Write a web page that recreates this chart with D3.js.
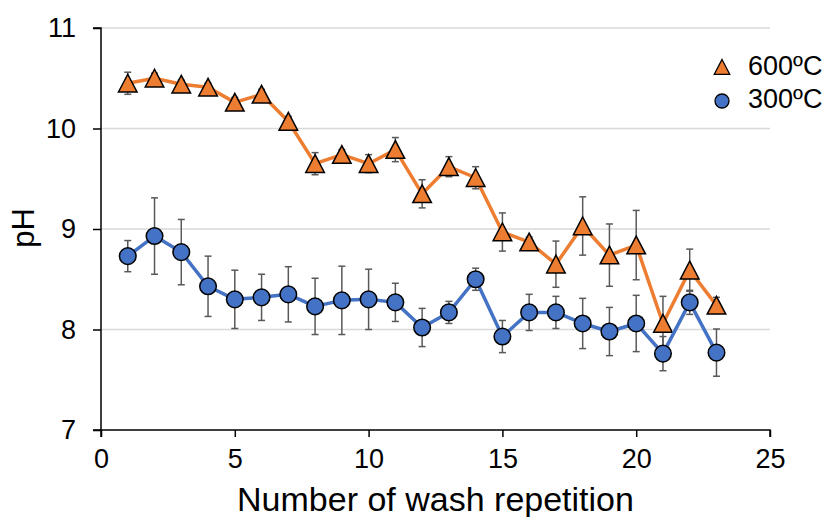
<!DOCTYPE html>
<html>
<head>
<meta charset="utf-8">
<script src="https://cdn.jsdelivr.net/npm/d3@7"></script>
<style>
  html, body { margin: 0; padding: 0; background: #fff; }
  svg { display: block; font-family: "Liberation Sans", Arial, sans-serif; }
</style>
</head>
<body>
<svg id="chart" width="828" height="517"></svg>
<script>
// Wash repetition number
const washes = [1,2,3,4,5,6,7,8,9,10,11,12,13,14,15,16,17,18,19,20,21,22,23];

// pH after each wash, biochar produced at 600 ºC
const ph600 = [10.45,10.50,10.44,10.41,10.26,10.34,10.07,9.65,9.74,9.65,9.79,9.35,9.62,9.51,8.97,8.87,8.65,9.03,8.74,8.84,8.06,8.59,8.24];
const err600 = [0.11,0.05,0.04,0.04,0.05,0.05,0.05,0.11,0.05,0.09,0.12,0.14,0.10,0.11,0.19,0.05,0.23,0.29,0.31,0.345,0.27,0.21,0.08];

// pH after each wash, biochar produced at 300 ºC
const ph300 = [8.73,8.93,8.77,8.43,8.30,8.32,8.35,8.23,8.29,8.30,8.27,8.02,8.17,8.50,7.93,8.17,8.17,8.06,7.98,8.06,7.76,8.27,7.77];
const err300 = [0.155,0.38,0.325,0.30,0.29,0.23,0.275,0.28,0.34,0.30,0.19,0.19,0.11,0.11,0.16,0.18,0.16,0.25,0.24,0.28,0.17,0.12,0.235];

const xTicks = [0,5,10,15,20,25];
const yTicks = [7,8,9,10,11];
const seriesNames = ["600ºC","300ºC"];
const seriesColors = ["#ED7D31","#4472C4"];

const svg = d3.select("#chart");
const x = d3.scaleLinear().domain([0,25]).range([101,770]);
const y = d3.scaleLinear().domain([7,11]).range([430,28]);

// horizontal gridlines
svg.append("g").selectAll("line")
  .data(yTicks.filter(t => t > 7))
  .join("line")
  .attr("x1", x(0)).attr("x2", x(25))
  .attr("y1", d => y(d)).attr("y2", d => y(d))
  .attr("stroke", "#d9d9d9").attr("stroke-width", 1.5);

// axes
const yAxis = svg.append("g")
  .attr("transform", `translate(${x(0)},0)`)
  .call(d3.axisLeft(y).tickValues(yTicks).tickSize(8).tickPadding(17).tickFormat(d3.format("d")));
const xAxis = svg.append("g")
  .attr("transform", `translate(0,${y(7)})`)
  .call(d3.axisBottom(x).tickValues(xTicks).tickSize(7).tickPadding(12).tickFormat(d3.format("d")));
[xAxis, yAxis].forEach(g => {
  g.select(".domain").attr("stroke", "#000").attr("stroke-width", 1.5);
  g.selectAll(".tick line").attr("stroke", "#000").attr("stroke-width", 1.5);
  g.selectAll(".tick text").attr("fill", "#000").attr("font-size", 27)
    .attr("font-family", "\"Liberation Sans\", Arial, sans-serif");
});
xAxis.select(".domain").attr("d", `M${x(0)},0V7M${x(0)},0H${x(25)}V7`);
yAxis.select(".domain").attr("d", `M-8,${y(11)}H0V${y(7)}H-8`);

// axis titles
svg.append("text")
  .attr("x", (x(0)+x(25))/2).attr("y", 511)
  .attr("text-anchor", "middle").attr("font-size", 34).attr("fill", "#000")
  .text("Number of wash repetition");
svg.append("text")
  .attr("transform", `translate(34,228) rotate(-90)`)
  .attr("text-anchor", "middle").attr("font-size", 31).attr("fill", "#000")
  .text("pH");

const triPath = s => `M0,${-s}L${s*1.03},${s*0.97}L${-s*1.03},${s*0.97}Z`;

function drawSeries(vals, errs, color, shape) {
  const pts = washes.map((w,i) => ({w, v: vals[i], e: errs[i]}));
  const g = svg.append("g");
  g.append("path")
    .datum(pts)
    .attr("fill", "none").attr("stroke", color).attr("stroke-width", 3.5)
    .attr("stroke-linejoin", "round")
    .attr("d", d3.line().x(d => x(d.w)).y(d => y(d.v)));
  const eb = g.append("g").attr("stroke", "#595959").attr("stroke-width", 1.5);
  pts.forEach(d => {
    const cx = x(d.w), y0 = y(d.v - d.e), y1 = y(d.v + d.e);
    eb.append("line").attr("x1", cx).attr("x2", cx).attr("y1", y0).attr("y2", y1);
    eb.append("line").attr("x1", cx-3.5).attr("x2", cx+3.5).attr("y1", y0).attr("y2", y0);
    eb.append("line").attr("x1", cx-3.5).attr("x2", cx+3.5).attr("y1", y1).attr("y2", y1);
  });
  if (shape === "tri") {
    g.selectAll("path.m").data(pts).join("path").attr("class","m")
      .attr("transform", d => `translate(${x(d.w)},${y(d.v)})`)
      .attr("d", triPath(9))
      .attr("fill", color).attr("stroke", "#000").attr("stroke-width", 1.5);
  } else {
    g.selectAll("circle.m").data(pts).join("circle").attr("class","m")
      .attr("cx", d => x(d.w)).attr("cy", d => y(d.v)).attr("r", 8.3)
      .attr("fill", color).attr("stroke", "#000").attr("stroke-width", 1.5);
  }
}

drawSeries(ph600, err600, seriesColors[0], "tri");
drawSeries(ph300, err300, seriesColors[1], "circ");

// legend
const legend = svg.append("g");
legend.append("path")
  .attr("transform", "translate(722,67)")
  .attr("d", triPath(7.5))
  .attr("fill", seriesColors[0]).attr("stroke", "#000").attr("stroke-width", 1.3);
legend.append("circle")
  .attr("cx", 722).attr("cy", 101).attr("r", 7)
  .attr("fill", seriesColors[1]).attr("stroke", "#000").attr("stroke-width", 1.3);
legend.selectAll("text").data(seriesNames).join("text")
  .attr("x", 748).attr("y", (d,i) => 75 + i*33)
  .attr("font-size", 27).attr("fill", "#000")
  .text(d => d);
</script>
</body>
</html>
